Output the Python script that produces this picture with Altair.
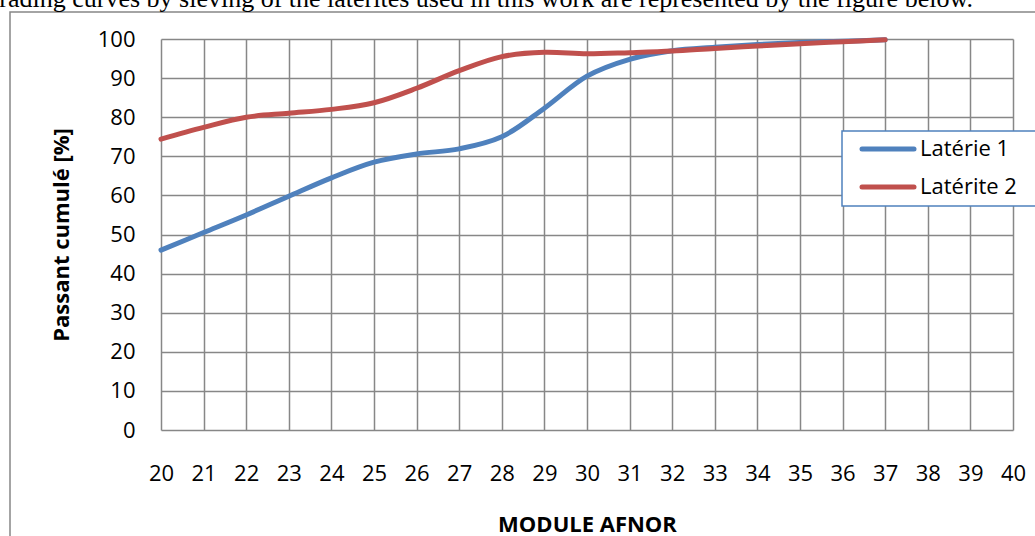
import altair as alt
import pandas as pd

# Sieve grading data: AFNOR module vs cumulative passing (%)
module = [20, 21, 22, 23, 24, 25, 26, 27, 28, 29, 30, 31, 32, 33, 34, 35, 36, 37]
laterie_1 = [46.0, 50.5, 55.0, 59.8, 64.5, 68.5, 70.6, 71.9, 75.0, 82.3, 90.5, 94.8,
             97.0, 97.9, 98.6, 99.1, 99.4, 99.8]
laterite_2 = [74.4, 77.4, 80.0, 81.0, 82.0, 83.7, 87.4, 91.9, 95.5, 96.6, 96.2, 96.5,
              96.9, 97.6, 98.2, 98.8, 99.3, 99.8]

series_names = ["Latérie 1", "Latérite 2"]
series_colors = ["#4F81BD", "#C0504D"]
x_ticks = [20, 21, 22, 23, 24, 25, 26, 27, 28, 29, 30, 31, 32, 33, 34, 35, 36, 37, 38, 39, 40]
y_ticks = [0, 10, 20, 30, 40, 50, 60, 70, 80, 90, 100]
caption = "Grading curves by sieving of the laterites used in this work are represented by the figure below."

GRID = "#878787"
FONT = "Open Sans"

x_enc = alt.X(
    "module:Q",
    scale=alt.Scale(domain=[20, 40], nice=False, zero=False),
    axis=alt.Axis(
        values=x_ticks, title="MODULE AFNOR", labelPadding=33, ticks=False,
        domain=False, labelFlush=False, labelOverlap=False,
        titleY=101, titleBaseline="alphabetic",
    ),
)
y_enc = alt.Y(
    "passant:Q",
    scale=alt.Scale(domain=[0, 100], nice=False),
    axis=alt.Axis(
        values=y_ticks, title="Passant cumulé [%]", labelPadding=26, ticks=False,
        domain=False, labelFlush=False, labelOverlap=False,
        titleX=-93, titleY=195.5, titleBaseline="alphabetic", titleAlign="center",
    ),
)

values = [laterie_1, laterite_2]
layers = []

# outer frame of the figure
frame = alt.Chart(pd.DataFrame({"k": [0]})).mark_rect(
    filled=False, stroke=GRID, strokeWidth=1.5
).encode(x=alt.value(-151), x2=alt.value(920), y=alt.value(-27), y2=alt.value(540))
layers.append(frame)

# caption text above the figure
cap = alt.Chart(pd.DataFrame({"t": [caption]})).mark_text(
    font="Liberation Serif", fontSize=26, align="right", baseline="alphabetic", color="black"
).encode(text="t:N", x=alt.value(812), y=alt.value(-32.5))
layers.append(cap)

for name, color, vals in zip(series_names, series_colors, values):
    df = pd.DataFrame({"module": module, "passant": vals, "serie": name})
    layers.append(
        alt.Chart(df).mark_line(
            color=color, strokeWidth=5, interpolate="catmull-rom", strokeCap="round"
        ).encode(x=x_enc, y=y_enc)
    )

# legend box
legend_box = alt.Chart(pd.DataFrame({"k": [0]})).mark_rect(
    fill="white", stroke="#4F81BD", strokeWidth=1.5
).encode(x=alt.value(681), x2=alt.value(920), y=alt.value(92), y2=alt.value(167))
layers.append(legend_box)

for i, (name, color) in enumerate(zip(series_names, series_colors)):
    row_y = 110 + 38 * i
    ldf = pd.DataFrame({"serie": [name]})
    layers.append(
        alt.Chart(ldf).mark_rule(color=color, strokeWidth=5, strokeCap="round").encode(
            x=alt.value(701), x2=alt.value(753), y=alt.value(row_y)
        )
    )
    layers.append(
        alt.Chart(ldf).mark_text(
            font=FONT, fontSize=22, align="left", baseline="middle", color="black"
        ).encode(text="serie:N", x=alt.value(759), y=alt.value(row_y))
    )

chart = alt.layer(*layers).properties(
    width=852,
    height=391,
    autosize=alt.AutoSizeParams(type="none"),
    padding={"left": 161, "top": 39, "right": 22, "bottom": 106},
    background="white",
).configure_view(strokeWidth=0).configure_axis(
    grid=True, gridColor=GRID, gridWidth=1.5, gridOpacity=1,
    labelFont=FONT, labelFontSize=22, labelColor="black",
    titleFont=FONT, titleFontSize=22, titleFontWeight="bold", titleColor="black",
)

chart.save("out.html", embed_options={"renderer": "svg", "actions": False})
